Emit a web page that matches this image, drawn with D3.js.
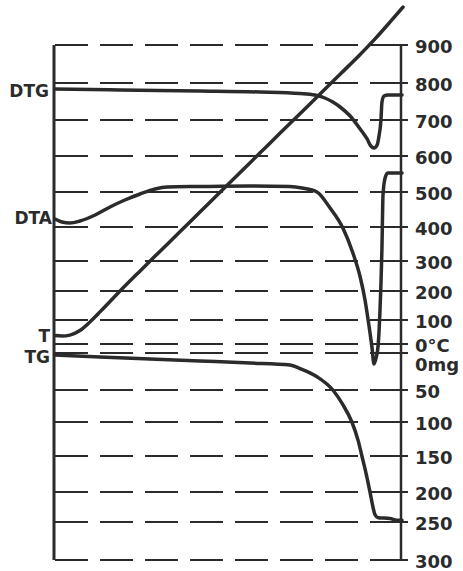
<!DOCTYPE html>
<html>
<head>
<meta charset="utf-8">
<script src="https://cdn.jsdelivr.net/npm/d3@7"></script>
<style>
  body { margin: 0; background: #fff; }
  svg { display: block; }
  text { font-family: "DejaVu Sans", sans-serif; font-weight: bold; fill: #2b2b2b; }
</style>
</head>
<body>
<svg width="463" height="571"></svg>
<script>
// tick labels
const tempTicks = [900, 800, 700, 600, 500, 400, 300, 200, 100, 0];
const massTicks = [0, 50, 100, 150, 200, 250, 300];

// T curve: time (min) / temperature (°C)
const tTime = [0, 2.0, 4.3, 7.2, 10.1, 13.0, 15.9, 18.8, 24.6, 30.3, 36.1, 41.9, 47.7, 53.5, 59.2, 65.0, 70.8, 76.6, 82.4, 88.2, 92.5, 96.8, 100.6];
const tTemp = [35, 33, 37, 56, 92, 128, 164, 200, 267, 328, 386, 443, 499, 554, 608, 663, 717, 770, 823, 875, 916, 960, 1000];

// DTG curve (arbitrary units, downward = mass loss rate)
const dtgTime = [0, 18.8, 41.9, 59.2, 70.8, 75.1, 78.0, 80.3, 82.4, 85.3, 88.2, 90.2, 91.3, 92.2, 93.1, 93.6, 94.2, 94.5, 95.1, 96.2, 100.3];
const dtgVal = [0, 0.17, 0.33, 0.5, 0.75, 1.0, 1.5, 2.17, 3.0, 4.5, 6.67, 8.33, 9.5, 9.83, 9.33, 8.0, 5.17, 2.17, 1.17, 1.0, 1.0];

// DTA curve (arbitrary units)
const dtaTime = [0, 2.0, 4.3, 7.2, 11.6, 15.9, 20.2, 24.6, 28.9, 32.4, 41.9, 56.4, 67.9, 71.4, 75.7, 79.5, 83.2, 86.1, 88.2, 89.6, 90.5, 91.6, 92.2, 92.8, 93.4, 93.9, 94.5, 94.8, 95.4, 96.2, 100.3];
const dtaVal = [4.6, 4.3, 4.2, 4.4, 5.0, 5.8, 6.5, 7.1, 7.6, 7.8, 7.85, 7.9, 7.85, 7.7, 7.3, 5.7, 3.7, 1.2, -1.2, -3.5, -5.5, -8.2, -9.9, -9.3, -8.0, -4.8, 1.8, 7.0, 8.7, 9.2, 9.2];

// TG curve: mass loss (mg)
const tgTime = [0, 13.0, 27.5, 41.9, 56.4, 67.9, 70.8, 75.7, 80.3, 83.2, 85.8, 87.6, 88.7, 89.9, 91.0, 91.9, 92.5, 93.4, 96.8, 98.8, 100.3];
const tgMass = [2.7, 5.4, 8.1, 10.8, 13.5, 16.2, 21, 32, 50, 73, 100, 127, 150, 174, 199, 225, 238, 243, 244, 247, 247];

const svg = d3.select('svg');
const ink = '#2b2b2b';
const left = 55, right = 401;

const x = d3.scaleLinear().domain([0, 100]).range([left, right]);
// the recorder's temperature scale is not linear
const yT = d3.scaleLinear()
  .domain([0, 100, 200, 300, 400, 500, 600, 700, 800, 900])
  .range([344, 320, 291, 261, 227, 192, 156, 120, 83, 45]);
const yTG = d3.scaleLinear()
  .domain([0, 50, 100, 150, 200, 250, 300])
  .range([353, 390, 422, 456, 492, 522, 560]);
const yDTG = d3.scaleLinear().domain([0, 10]).range([89, 149]);
const yDTA = d3.scaleLinear().domain([-10, 10]).range([365, 165]);

// dashed grid
const grid = svg.append('g')
  .attr('stroke', ink).attr('stroke-width', 2).attr('stroke-dasharray', '33,12');
tempTicks.forEach(v => {
  grid.append('line').attr('x1', left).attr('x2', right).attr('y1', yT(v)).attr('y2', yT(v));
});
massTicks.forEach(v => {
  grid.append('line').attr('x1', left).attr('x2', right).attr('y1', yTG(v)).attr('y2', yTG(v));
});

// axes
svg.append('line').attr('x1', left - 1).attr('x2', left - 1)
  .attr('y1', yT(900)).attr('y2', yTG(300))
  .attr('stroke', ink).attr('stroke-width', 3);
svg.append('line').attr('x1', right).attr('x2', right)
  .attr('y1', yT(900)).attr('y2', yTG(300))
  .attr('stroke', ink).attr('stroke-width', 2.5);

const ticks = svg.append('g').attr('stroke', ink).attr('stroke-width', 2);
tempTicks.forEach(v => {
  ticks.append('line').attr('x1', right - 5).attr('x2', right + 7).attr('y1', yT(v)).attr('y2', yT(v));
});
massTicks.forEach(v => {
  ticks.append('line').attr('x1', right - 5).attr('x2', right + 7).attr('y1', yTG(v)).attr('y2', yTG(v));
});

// right labels
tempTicks.forEach(v => {
  svg.append('text')
    .attr('x', 415).attr('y', yT(v) + 3)
    .attr('dominant-baseline', 'middle')
    .attr('font-size', 18)
    .text(v === 0 ? '0°C' : v);
});
massTicks.forEach(v => {
  svg.append('text')
    .attr('x', 415).attr('y', v === 0 ? yTG(v) + 13 : yTG(v) + 3)
    .attr('dominant-baseline', 'middle')
    .attr('font-size', 18)
    .text(v === 0 ? '0mg' : v);
});

// curves
const curve = (xs, ys, yScale) => {
  const line = d3.line()
    .x(d => x(d[0]))
    .y(d => yScale(d[1]))
    .curve(d3.curveMonotoneX);
  svg.append('path')
    .datum(xs.map((t, i) => [t, ys[i]]))
    .attr('d', line)
    .attr('fill', 'none')
    .attr('stroke', ink)
    .attr('stroke-width', 3.5)
    .attr('stroke-linejoin', 'round')
    .attr('stroke-linecap', 'round');
}
curve(tTime, tTemp, yT);
curve(dtgTime, dtgVal, yDTG);
curve(dtaTime, dtaVal, yDTA);
curve(tgTime, tgMass, yTG);

// curve names
const names = [['DTG', 49, yDTG(0) + 3], ['DTA', 52, yDTA(4.6)], ['T', 50, yT(35) + 1], ['TG', 50, yTG(2.7) + 3]];
names.forEach(n => {
  svg.append('text')
    .attr('x', n[1]).attr('y', n[2])
    .attr('text-anchor', 'end')
    .attr('dominant-baseline', 'middle')
    .attr('font-size', 17)
    .text(n[0]);
});
</script>
</body>
</html>
